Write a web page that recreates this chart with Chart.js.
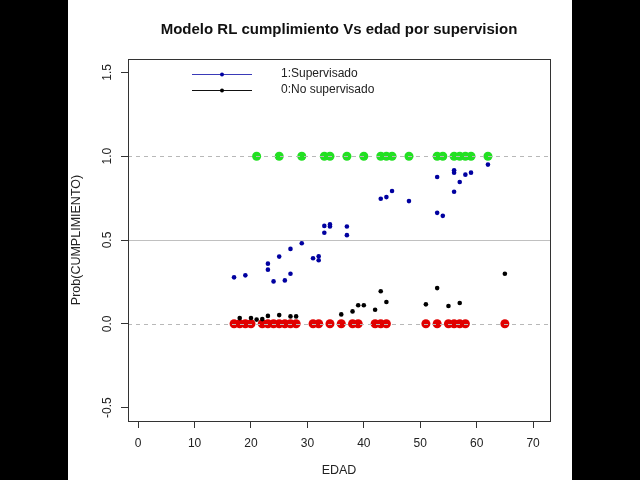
<!DOCTYPE html>
<html>
<head>
<meta charset="utf-8">
<script src="https://cdn.jsdelivr.net/npm/chart.js@4/dist/chart.umd.min.js"></script>
<style>
html,body{margin:0;padding:0;background:#000;}
canvas{display:block;}
</style>
</head>
<body>
<canvas id="c" width="640" height="480"></canvas>
<script>
// ---- data ----
const chartTitle = 'Modelo RL cumplimiento Vs edad por supervision';
const xTitle = 'EDAD';
const yTitle = 'Prob(CUMPLIMIENTO)';
const legendLabels = ['1:Supervisado', '0:No supervisado'];

// fitted probabilities, supervised
const edadSup = [17,19,23,23,24,25,26,27,27,29,31,32,32,33,33,34,34,37,37,43,44,45,48,53,53,54,56,56,56,57,58,59,62];
const probSup = [0.277,0.289,0.359,0.323,0.253,0.401,0.259,0.447,0.299,0.481,0.391,0.403,0.379,0.584,0.543,0.593,0.581,0.581,0.529,0.746,0.756,0.792,0.732,0.876,0.662,0.644,0.916,0.902,0.788,0.846,0.890,0.902,0.950];

// fitted probabilities, not supervised
const edadNoSup = [18,20,21,22,23,25,27,28,36,38,39,40,42,43,44,51,53,55,57,65];
const probNoSup = [0.034,0.035,0.025,0.028,0.047,0.052,0.044,0.044,0.056,0.074,0.111,0.111,0.084,0.194,0.130,0.116,0.213,0.106,0.124,0.299];

// observed outcomes
const edadCumple = [21,25,29,33,34,37,40,43,44,45,48,53,54,56,57,58,59,62];      // y = 1
const edadNoCumple = [17,18,19,20,22,23,24,25,26,27,28,31,32,34,36,38,39,42,43,44,51,53,55,56,57,58,65]; // y = 0

const xTicks = [0,10,20,30,40,50,60,70];
const yTicks = [-0.5,0,0.5,1,1.5];
const yTickLabels = ['-0.5','0.0','0.5','1.0','1.5'];
const dashedRefs = [0,1];
const solidRefs = [0.5];

const FONT = '"Liberation Sans", Arial, sans-serif';
const TXT = '#222';

function pts(xs, ys) { return xs.map((x, i) => ({x: x, y: ys[i]})); }
function constPts(xs, v) { return xs.map(x => ({x: x, y: v})); }

const decor = {
  id: 'decor',
  beforeDraw(chart) {
    const ctx = chart.ctx;
    ctx.save();
    ctx.fillStyle = '#000';
    ctx.fillRect(0, 0, chart.width, chart.height);
    ctx.fillStyle = '#fff';
    ctx.fillRect(68, 0, 504, chart.height);
    ctx.restore();
  },
  afterDatasetsDraw(chart) {
    const ctx = chart.ctx, a = chart.chartArea, ys = chart.scales.y;
    ctx.save();
    ctx.lineWidth = 1;
    ctx.strokeStyle = '#b8b8b8';
    ctx.setLineDash([4, 4]);
    dashedRefs.forEach(v => {
      const py = Math.round(ys.getPixelForValue(v)) + 0.5;
      ctx.beginPath(); ctx.moveTo(a.left, py); ctx.lineTo(a.right, py); ctx.stroke();
    });
    ctx.setLineDash([]);
    ctx.strokeStyle = '#c0c0c0';
    solidRefs.forEach(v => {
      const py = Math.round(ys.getPixelForValue(v)) + 0.5;
      ctx.beginPath(); ctx.moveTo(a.left, py); ctx.lineTo(a.right, py); ctx.stroke();
    });
    ctx.restore();
  },
  afterDraw(chart) {
    const ctx = chart.ctx, a = chart.chartArea, ys = chart.scales.y;
    ctx.save();
    // box
    ctx.strokeStyle = '#333';
    ctx.lineWidth = 1;
    ctx.strokeRect(Math.round(a.left) + 0.5, Math.round(a.top) + 0.5, Math.round(a.right - a.left), Math.round(a.bottom - a.top));
    // y tick labels (rotated, R style)
    ctx.fillStyle = TXT;
    ctx.font = '12px ' + FONT;
    yTicks.forEach((v, i) => {
      const py = ys.getPixelForValue(v);
      ctx.save();
      ctx.translate(a.left - 14, py);
      ctx.rotate(-Math.PI / 2);
      ctx.textAlign = 'center';
      ctx.textBaseline = 'bottom';
      ctx.fillText(yTickLabels[i], 0, 0);
      ctx.restore();
    });
    // y title
    ctx.font = '12.5px ' + FONT;
    ctx.save();
    ctx.translate(77, (a.top + a.bottom) / 2);
    ctx.rotate(-Math.PI / 2);
    ctx.textAlign = 'center';
    ctx.textBaseline = 'middle';
    ctx.fillText(yTitle, 0, 0);
    ctx.restore();
    // x title
    ctx.textAlign = 'center';
    ctx.textBaseline = 'middle';
    ctx.fillText(xTitle, (a.left + a.right) / 2, 471);
    // main title
    ctx.font = 'bold 15px ' + FONT;
    ctx.fillStyle = '#111';
    ctx.fillText(chartTitle, (a.left + a.right) / 2, 30);
    // legend
    const ds = chart.data.datasets;
    ctx.font = '12px ' + FONT;
    ctx.fillStyle = TXT;
    [0, 1].forEach(i => {
      const ly = a.top + 15 + i * 16;
      const c = ds[i].legendLine;
      ctx.strokeStyle = c;
      ctx.lineWidth = 1;
      ctx.beginPath(); ctx.moveTo(a.left + 64, Math.round(ly) + 0.5); ctx.lineTo(a.left + 124, Math.round(ly) + 0.5); ctx.stroke();
      ctx.fillStyle = ds[i].backgroundColor;
      ctx.beginPath(); ctx.arc(a.left + 94, Math.round(ly) + 0.5, 2, 0, Math.PI * 2); ctx.fill();
      ctx.fillStyle = TXT;
      ctx.textAlign = 'left';
      ctx.textBaseline = 'middle';
      ctx.fillText(ds[i].label, a.left + 153, ly);
    });
    ctx.restore();
  }
};

new Chart(document.getElementById('c'), {
  type: 'scatter',
  data: {
    datasets: [
      { label: legendLabels[0], data: pts(edadSup, probSup), backgroundColor: '#0000a0', borderColor: '#0000a0', pointRadius: 2.3, borderWidth: 0, legendLine: '#3a3ab8' },
      { label: legendLabels[1], data: pts(edadNoSup, probNoSup), backgroundColor: '#000000', borderColor: '#000000', pointRadius: 2.3, borderWidth: 0, legendLine: '#111' },
      { label: 'y=1', data: constPts(edadCumple, 1), backgroundColor: '#22e022', borderColor: '#22e022', pointRadius: 4.5, borderWidth: 0 },
      { label: 'y=0', data: constPts(edadNoCumple, 0), backgroundColor: '#e00000', borderColor: '#e00000', pointRadius: 4.5, borderWidth: 0 }
    ]
  },
  options: {
    responsive: false,
    animation: false,
    devicePixelRatio: 1,
    layout: { padding: { top: 59, right: 90, bottom: 0, left: 0 } },
    plugins: { legend: { display: false }, title: { display: false }, tooltip: { enabled: false } },
    scales: {
      x: {
        type: 'linear',
        min: -1.8, max: 73,
        afterBuildTicks: s => { s.ticks = xTicks.map(v => ({ value: v })); },
        afterFit: s => { s.height = 59; },
        ticks: { font: { family: FONT, size: 12 }, color: TXT, padding: 8, maxRotation: 0, autoSkip: false },
        grid: { drawOnChartArea: false, drawTicks: true, tickLength: 7, color: '#333' },
        border: { display: false }
      },
      y: {
        type: 'linear',
        min: -0.58, max: 1.58,
        afterBuildTicks: s => { s.ticks = yTicks.map(v => ({ value: v })); },
        afterFit: s => { s.width = 128; },
        ticks: { display: false },
        grid: { drawOnChartArea: false, drawTicks: true, tickLength: 7, color: '#333' },
        border: { display: false }
      }
    }
  },
  plugins: [decor]
});
</script>
</body>
</html>
